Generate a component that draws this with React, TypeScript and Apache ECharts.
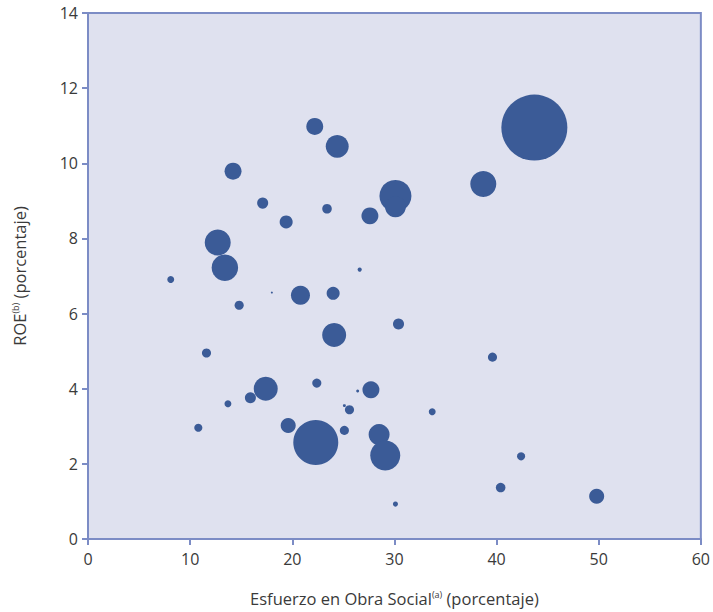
import React, { useEffect, useRef } from "react";
import * as echarts from "echarts";

// Esfuerzo en Obra Social (%)
const esfuerzo = [
  22.2, 24.4, 14.2, 17.1, 23.4, 19.4, 12.7, 13.4, 8.1, 18.0, 26.6, 43.7, 38.7, 30.1,
  30.1, 27.6, 20.8, 24.0, 14.8, 24.1, 11.6, 17.4, 22.4, 15.9, 13.7, 10.8, 19.6, 22.3,
  25.1, 25.6, 25.1, 26.4, 30.4, 39.6, 27.7, 33.7, 28.5, 29.1, 42.4, 40.4, 49.8, 30.1,
];
// ROE (%)
const roe = [
  10.98, 10.45, 9.79, 8.94, 8.79, 8.44, 7.89, 7.22, 6.91, 6.56, 7.17, 10.95, 9.45, 9.13,
  8.84, 8.6, 6.49, 6.54, 6.22, 5.43, 4.95, 4.0, 4.15, 3.76, 3.6, 2.96, 3.02, 2.57,
  3.55, 3.44, 2.89, 3.94, 5.72, 4.84, 3.97, 3.39, 2.78, 2.22, 2.2, 1.37, 1.14, 0.93,
];
// Tamaño relativo de la entidad (máximo = 100)
const tamano = [
  6.6, 12.1, 6.6, 2.8, 2.1, 3.9, 15.5, 16.1, 1.1, 0.1, 0.4, 100, 15.5, 23.5,
  10.1, 6.6, 8.3, 3.9, 1.9, 13.2, 1.9, 13.2, 1.9, 2.8, 1.1, 1.5, 5.2, 46.5,
  0.2, 1.9, 1.9, 0.2, 2.8, 1.9, 6.6, 1.1, 10.1, 20.7, 1.5, 2.1, 5.2, 0.6,
];

const xTicks = [0, 10, 20, 30, 40, 50, 60];
const yTicks = [0, 2, 4, 6, 8, 10, 12, 14];

export default function App() {
  const ref = useRef<HTMLDivElement>(null);
  useEffect(() => {
    document.body.style.margin = "0";
    if (!ref.current) return;
    const chart = echarts.init(ref.current, null, { renderer: "svg" });
    const data = esfuerzo.map((x, i) => [x, roe[i], tamano[i]]);
    const axisColor = "#7c8cc5";
    const font = "'Open Sans', 'Noto Sans', sans-serif";
    const textColor = "#3a3a3a";
    chart.setOption({
      animation: false,
      grid: {
        left: 88,
        right: 12,
        top: 13,
        bottom: 70,
        show: true,
        backgroundColor: "#dfe1ef",
        borderColor: axisColor,
        borderWidth: 2,
      },
      xAxis: {
        type: "value",
        min: xTicks[0],
        max: xTicks[xTicks.length - 1],
        interval: 10,
        name: "Esfuerzo en Obra Social{sup|(a)} (porcentaje)",
        nameLocation: "middle",
        nameGap: 51,
        nameTextStyle: {
          fontFamily: font,
          fontSize: 16.5,
          color: textColor,
          rich: {
            sup: { fontFamily: font, fontSize: 9, color: textColor, verticalAlign: "top", padding: [0, 0, 8, 0] },
          },
        },
        axisLine: { show: true, lineStyle: { color: axisColor, width: 2 } },
        axisTick: { show: true, length: 6, lineStyle: { color: axisColor, width: 2 } },
        axisLabel: { fontFamily: font, fontSize: 16, color: textColor, margin: 12 },
        splitLine: { show: false },
      },
      yAxis: {
        type: "value",
        min: yTicks[0],
        max: yTicks[yTicks.length - 1],
        interval: 2,
        name: "ROE{sup|(b)} (porcentaje)",
        nameLocation: "middle",
        nameGap: 60,
        nameRotate: 90,
        nameTextStyle: {
          fontFamily: font,
          fontSize: 16.5,
          color: textColor,
          rich: {
            sup: { fontFamily: font, fontSize: 9, color: textColor, verticalAlign: "top", padding: [0, 0, 8, 0] },
          },
        },
        axisLine: { show: true, lineStyle: { color: axisColor, width: 2 } },
        axisTick: { show: true, length: 6, lineStyle: { color: axisColor, width: 2 } },
        axisLabel: { fontFamily: font, fontSize: 16, color: textColor, margin: 10 },
        splitLine: { show: false },
      },
      series: [
        {
          type: "scatter",
          data,
          symbol: "circle",
          symbolSize: (v: number[]) => Math.max(2, 66 * Math.sqrt(v[2] / 100)),
          itemStyle: { color: "#3b5b97", opacity: 1 },
        },
      ],
    });
    return () => chart.dispose();
  }, []);
  return <div ref={ref} style={{ width: 713, height: 612 }} />;
}
